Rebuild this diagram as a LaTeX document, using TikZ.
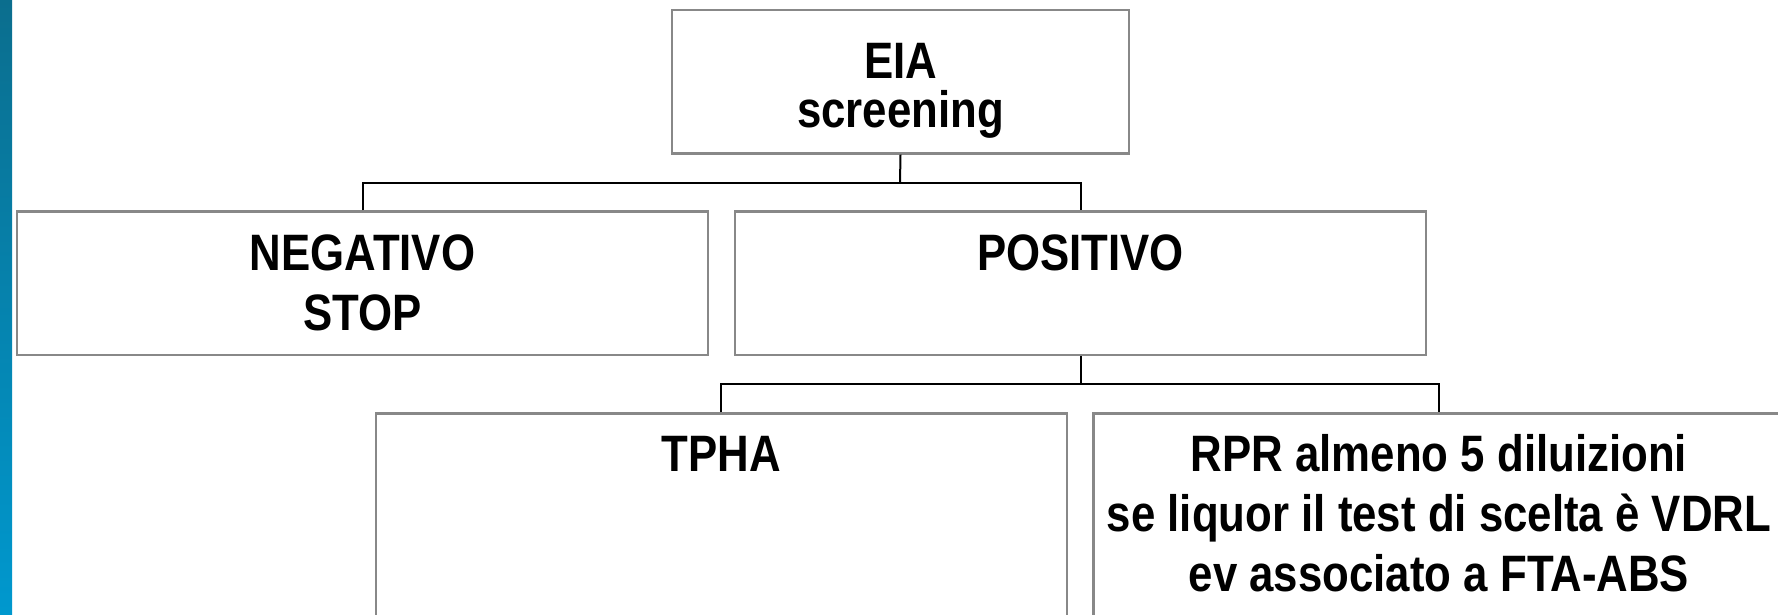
\documentclass[tikz,border=0pt]{standalone}
\usepackage{fontspec}
\setmainfont{Liberation Sans}[FakeStretch=0.855]
\usetikzlibrary{calc}
\definecolor{bartop}{RGB}{11,110,142}
\definecolor{barbot}{RGB}{0,152,206}
\definecolor{boxgray}{RGB}{136,136,136}
\tikzset{
  box/.style={draw=boxgray, line width=2.5pt, fill=white, inner sep=0pt, minimum width=691pt, minimum height=143.5pt},
  conn/.style={draw=black, line width=2pt},
  txt/.style={anchor=base, inner sep=0pt, font=\fontsize{51.2pt}{60pt}\selectfont\bfseries}
}
\begin{document}
\begin{tikzpicture}[x=1pt,y=-1pt]
\clip (0,0) rectangle (1778,614);
\fill[white] (0,0) rectangle (1778,614);
\shade[top color=bartop, bottom color=barbot] (0,0) rectangle (12,614);
% boxes
\node[box, minimum width=457pt, minimum height=143.3pt] (eia) at (900.5,81.7) {};
\node[box] (neg) at (362.5,283.3) {};
\node[box] (pos) at (1080.5,283.3) {};
\node[box, minimum height=250pt] (tpha) at (721.3,538.3) {};
\node[box, minimum height=250pt] (rpr) at (1439,538.3) {};
% texts
\node[txt] (eiaA) at (900.5,78.3) {EIA};
\node[txt] (eiaB) at (900.5,127.7) {screening};
\node[txt] (negA) at (362.5,270) {NEGATIVO};
\node[txt] (negB) at (362.5,330) {STOP};
\node[txt] (posA) at (1080.5,270) {POSITIVO};
\node[txt] (tphaA) at (721.3,471.7) {TPHA};
\node[txt] (rprA) at (1439,471.7) {RPR almeno 5 diluizioni};
\node[txt] (rprB) at (1439,531.7) {se liquor il test di scelta è VDRL};
\node[txt] (rprC) at (1439,591.7) {ev associato a FTA-ABS};
% connectors
\coordinate (j1) at (900,182.7);
\coordinate (j2) at (1080.5,384.3);
\draw[conn] (eia.south) -- (j1);
\draw[conn] (neg.north) |- (j1) -| (pos.north);
\draw[conn] (pos.south) -- (j2);
\draw[conn] (tpha.north) |- (j2) -| (rpr.north);
\end{tikzpicture}
\end{document}
